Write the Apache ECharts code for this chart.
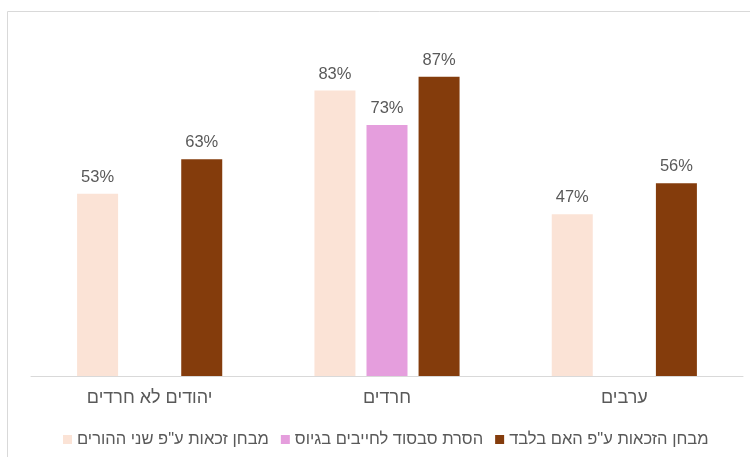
<!DOCTYPE html>
<html>
<head>
<meta charset="utf-8">
<script src="https://cdn.jsdelivr.net/npm/echarts@6/dist/echarts.min.js"></script>
<style>html,body{margin:0;padding:0;background:#fff}#c{width:750px;height:457px}</style>
</head>
<body>
<div id="c"></div>
<script>
const categories = ['יהודים לא חרדים', 'חרדים', 'ערבים'];
const seriesNames = ['מבחן זכאות ע"פ שני ההורים', 'הסרת סבסוד לחייבים בגיוס', 'מבחן הזכאות ע"פ האם בלבד'];
const bothParents = [53, 83, 47];
const draftSubsidy = [null, 73, null];
const motherOnly = [63, 87, 56];
const colors = ['#FBE3D6', '#E59EDD', '#843C0C'];

const font = '"Liberation Sans", Arial, "DejaVu Sans", sans-serif';
const chart = echarts.init(document.getElementById('c'), null, {renderer: 'canvas'});
const mk = (name, data, color) => ({
  name, type: 'bar', data, barWidth: 41, barGap: '27%',
  itemStyle: {color},
  label: {show: true, position: 'top', distance: 8, formatter: p => p.value + '%',
    color: '#595959', fontSize: 16.5, fontFamily: font}
});
chart.setOption({
  animation: false,
  graphic: [{type: 'rect', shape: {x: 7.5, y: 11.5, width: 800, height: 500},
    style: {fill: 'none', stroke: '#d9d9d9', lineWidth: 1}}],
  grid: {left: 31, right: 7, top: 32, bottom: 81},
  legend: {
    data: seriesNames, top: 426, left: 58, itemWidth: 9, itemHeight: 9, itemGap: 12,
    icon: 'rect', textStyle: {color: '#595959', fontSize: 16.5, fontFamily: font}
  },
  xAxis: {
    type: 'category', data: categories,
    axisLine: {lineStyle: {color: '#d9d9d9', width: 1}},
    axisTick: {show: false},
    axisLabel: {color: '#595959', fontSize: 18, fontFamily: font, margin: 13}
  },
  yAxis: {type: 'value', min: 0, max: 100, show: false, splitLine: {show: false}},
  series: [mk(seriesNames[0], bothParents, colors[0]), mk(seriesNames[1], draftSubsidy, colors[1]), mk(seriesNames[2], motherOnly, colors[2])]
});
</script>
</body>
</html>
